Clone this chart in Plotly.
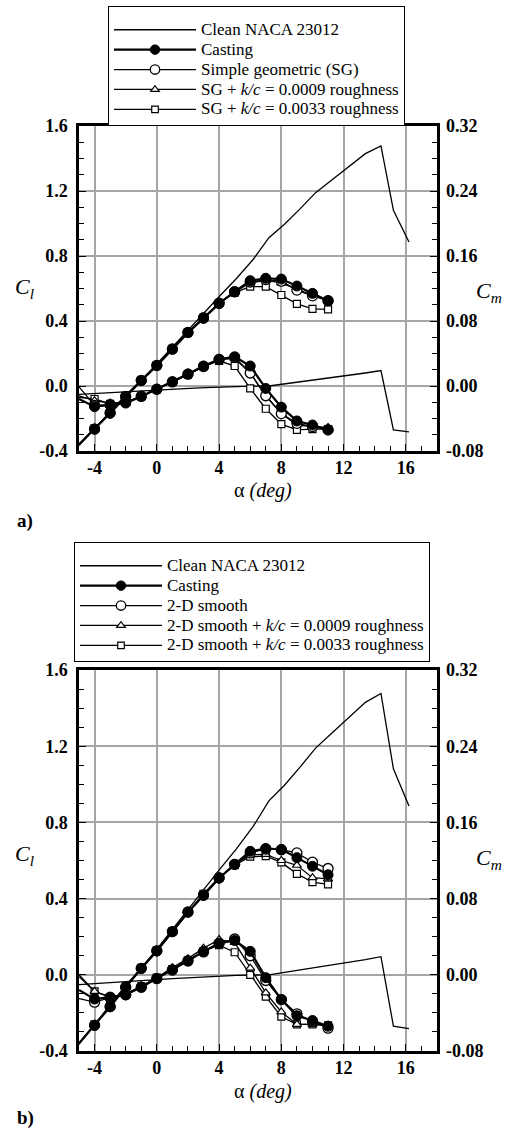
import plotly.graph_objects as go

# ---------------- data ----------------
alpha = [-5, -4, -3, -2, -1, 0, 1, 2, 3, 4, 5, 6, 7, 8, 9, 10, 11]

alpha_clean = [-5.2, -4.1, -3.1, -2.1, -1.0, 0.0, 1.0, 2.1, 3.1, 4.1, 5.1, 6.2, 7.2,
               8.2, 9.2, 10.2, 11.2, 12.2, 13.4, 14.4, 15.2, 16.2]
cl_clean = [-0.385, -0.275, -0.17, -0.065, 0.035, 0.135, 0.24, 0.35, 0.455, 0.56, 0.66,
            0.78, 0.913, 0.995, 1.09, 1.19, 1.265, 1.34, 1.43, 1.477, 1.081, 0.886]
cm_clean = [-0.0105, -0.0095, -0.0085, -0.0075, -0.0062, -0.005, -0.004, -0.003, -0.002,
            -0.0012, -0.0006, -0.0002, 0.0, 0.0025, 0.005, 0.0075, 0.010, 0.013, 0.016,
            0.019, -0.054, -0.0565]

cl_casting = [-0.36, -0.265, -0.168, -0.066, 0.033, 0.125, 0.226, 0.328, 0.416, 0.507,
              0.58, 0.648, 0.663, 0.658, 0.615, 0.57, 0.525]
cm_casting = [-0.016, -0.0255, -0.0234, -0.021, -0.013, -0.004, 0.0053, 0.0148, 0.0246,
              0.033, 0.036, 0.0246, -0.003, -0.026, -0.043, -0.048, -0.054]

# (a) simple geometric
cl_sg = [-0.36, -0.265, -0.165, -0.065, 0.035, 0.127, 0.228, 0.33, 0.42, 0.51, 0.58,
         0.64, 0.655, 0.645, 0.59, 0.555, 0.525]
cm_sg = [-0.001, -0.024, -0.023, -0.02, -0.0125, -0.004, 0.005, 0.0145, 0.024, 0.0325,
         0.035, 0.016, -0.012, -0.034, -0.046, -0.05, -0.054]
cl_sg_k9 = [-0.36, -0.262, -0.162, -0.062, 0.036, 0.128, 0.228, 0.33, 0.42, 0.51, 0.578,
            0.635, 0.65, 0.635, 0.595, 0.56, 0.525]
cm_sg_k9 = [-0.012, -0.018, -0.021, -0.02, -0.0125, -0.004, 0.005, 0.0145, 0.024, 0.0325,
            0.034, 0.016, -0.012, -0.034, -0.048, -0.05, -0.051]
cl_sg_k33 = [-0.36, -0.26, -0.16, -0.06, 0.037, 0.128, 0.228, 0.33, 0.42, 0.51, 0.575,
             0.611, 0.611, 0.56, 0.505, 0.474, 0.472]
cm_sg_k33 = [-0.014, -0.016, -0.022, -0.02, -0.013, -0.004, 0.005, 0.014, 0.024, 0.031,
             0.0246, -0.003, -0.028, -0.047, -0.054, -0.053, -0.053]

# (b) 2-D smooth
cl_2d = [-0.36, -0.265, -0.167, -0.066, 0.034, 0.126, 0.227, 0.33, 0.42, 0.51, 0.58,
         0.64, 0.66, 0.657, 0.64, 0.591, 0.558]
cm_2d = [-0.025, -0.0287, -0.024, -0.021, -0.013, -0.004, 0.005, 0.0145, 0.024, 0.033,
         0.0376, 0.020, -0.006, -0.026, -0.041, -0.049, -0.056]
cl_2d_k9 = [-0.36, -0.262, -0.163, -0.062, 0.036, 0.128, 0.228, 0.33, 0.425, 0.51, 0.578,
            0.63, 0.632, 0.6, 0.575, 0.51, 0.504]
cm_2d_k9 = [0.0, -0.0175, -0.0234, -0.02, -0.012, -0.003, 0.0075, 0.017, 0.028, 0.037,
            0.034, 0.007, -0.019, -0.039, -0.052, -0.052, -0.053]
cl_2d_k33 = [-0.36, -0.26, -0.16, -0.06, 0.037, 0.128, 0.228, 0.33, 0.425, 0.51, 0.575,
             0.62, 0.623, 0.59, 0.53, 0.487, 0.475]
cm_2d_k33 = [-0.002, -0.0175, -0.0234, -0.02, -0.012, -0.003, 0.006, 0.015, 0.025, 0.031,
             0.0237, 0.0, -0.023, -0.044, -0.052, -0.052, -0.053]

names_a = ["Clean NACA 23012", "Casting", "Simple geometric (SG)",
           "SG + <i>k/c</i> = 0.0009 roughness", "SG + <i>k/c</i> = 0.0033 roughness"]
names_b = ["Clean NACA 23012", "Casting", "2-D smooth",
           "2-D smooth + <i>k/c</i> = 0.0009 roughness",
           "2-D smooth + <i>k/c</i> = 0.0033 roughness"]

x_ticks = [-4, 0, 4, 8, 12, 16]
x_ticktext = ["-4", "0", "4", "8", "12", "16"]
cl_ticks = [-0.4, 0.0, 0.4, 0.8, 1.2, 1.6]
cl_ticktext = ["-0.4", "0.0", "0.4", "0.8", "1.2", "1.6"]
cm_ticks = [-0.08, 0.0, 0.08, 0.16, 0.24, 0.32]
cm_ticktext = ["-0.08", "0.00", "0.08", "0.16", "0.24", "0.32"]

# ---------------- layout helpers ----------------
W, H = 508, 1132
def px(x):
    return x / W
def py(y):
    return 1 - y / H

SERIF = "Liberation Serif, Times New Roman, serif"
fig = go.Figure()

styles = {
    "casting": dict(symbol="circle", size=10, color="black", lw=2.2, mlw=1),
    "open": dict(symbol="circle", size=10, color="white", lw=1.3, mlw=1.3),
    "tri": dict(symbol="triangle-up", size=8, color="white", lw=1.3, mlw=1.2),
    "sq": dict(symbol="square", size=7, color="white", lw=1.3, mlw=1.2),
}

def sizes(s):
    return [0 if a < -4.5 else s for a in alpha]

def leg_name(t):
    return '<span style="font-size:17px">%s</span>' % t

def add_panel(xa, ya, ya2, legend, names, cl_series, cm_series):
    fig.add_trace(go.Scatter(x=alpha_clean, y=cl_clean, mode="lines", name=leg_name(names[0]),
                             line=dict(color="black", width=1.3), xaxis=xa, yaxis=ya,
                             legend=legend, legendrank=1, hoverinfo="skip"))
    fig.add_trace(go.Scatter(x=alpha_clean, y=cm_clean, mode="lines", name=leg_name(names[0]),
                             line=dict(color="black", width=1.3), xaxis=xa, yaxis=ya2,
                             legend=legend, showlegend=False, hoverinfo="skip"))
    order = [("sq", 5), ("tri", 4), ("open", 3), ("casting", 2)]
    for key, rank in order:
        st = styles[key]
        idx = rank - 2
        for j, (yy, axis) in enumerate([(cl_series[idx], ya), (cm_series[idx], ya2)]):
            fig.add_trace(go.Scatter(
                x=alpha, y=yy, mode="lines+markers", name=leg_name(names[rank - 1]),
                line=dict(color="black", width=st["lw"]),
                marker=dict(symbol=st["symbol"], size=sizes(st["size"]), color=st["color"],
                            opacity=1, line=dict(color="black", width=st["mlw"])),
                xaxis=xa, yaxis=axis, legend=legend, legendrank=rank,
                showlegend=(j == 0), hoverinfo="skip"))

add_panel("x", "y", "y2", "legend", names_a,
          [cl_casting, cl_sg, cl_sg_k9, cl_sg_k33],
          [cm_casting, cm_sg, cm_sg_k9, cm_sg_k33])
add_panel("x2", "y3", "y4", "legend2", names_b,
          [cl_casting, cl_2d, cl_2d_k9, cl_2d_k33],
          [cm_casting, cm_2d, cm_2d_k9, cm_2d_k33])

tickfont = dict(family=SERIF, size=18, color="black", weight="bold")
xdom = [px(79), px(437)]
dom_a = [py(451), py(126)]
dom_b = [py(1051), py(670)]

def xaxis(anchor):
    return dict(domain=xdom, anchor=anchor, range=[-5, 18], tickmode="array",
                tickvals=x_ticks, ticktext=x_ticktext, ticks="inside", ticklen=7,
                tickwidth=1.2, tickcolor="black", showline=True, linewidth=2.5,
                linecolor="black", mirror=True, showgrid=True, gridcolor="#a6a6a6",
                gridwidth=1.5, zeroline=False, tickfont=tickfont, ticklabelstandoff=-1,
                automargin=False,
                minor=dict(dtick=1, tick0=0, ticks="inside", ticklen=5, tickwidth=1.2,
                           tickcolor="black", showgrid=False))

def yaxis(dom, anchor):
    return dict(domain=dom, anchor=anchor, range=[-0.4, 1.6], tickmode="array",
                tickvals=cl_ticks, ticktext=cl_ticktext, ticks="inside", ticklen=7,
                tickwidth=1.2, tickcolor="black", showline=True, linewidth=2.5,
                linecolor="black", mirror=True, showgrid=True, gridcolor="#a6a6a6",
                gridwidth=1.5, zeroline=False, tickfont=tickfont, ticklabelstandoff=5,
                automargin=False,
                minor=dict(dtick=0.1, tick0=0, ticks="inside", ticklen=5, tickwidth=1.2,
                           tickcolor="black", showgrid=False))

def y2axis(dom, anchor, over):
    return dict(domain=dom, anchor=anchor, overlaying=over, side="right",
                range=[-0.08, 0.32], tickmode="array", tickvals=cm_ticks,
                ticktext=cm_ticktext, ticks="inside", ticklen=7, tickwidth=1.2,
                tickcolor="black", showline=False, showgrid=False, zeroline=False,
                tickfont=tickfont, ticklabelstandoff=8, automargin=False,
                minor=dict(dtick=0.02, tick0=0, ticks="inside", ticklen=5, tickwidth=1.2,
                           tickcolor="black", showgrid=False))

legend_common = dict(xanchor="left", yanchor="top", bgcolor="white", bordercolor="black",
                     borderwidth=1, font=dict(family=SERIF, size=13, color="black"),
                     itemwidth=82, tracegroupgap=0, traceorder="normal",
                     title=dict(text=" ", font=dict(family=SERIF, size=6)))

annots = []
def ann(text, x, y, size):
    annots.append(dict(text=text, x=px(x), y=py(y), xref="paper", yref="paper",
                       xanchor="center", yanchor="middle", showarrow=False,
                       font=dict(family=SERIF, size=size, color="black")))

for bot, cl_y, lab, lab_y in [(451, 288, "a)", 521), (1051, 855, "b)", 1118)]:
    ann("<i>C</i><sub><i>l</i></sub>", 24, cl_y, 22)
    ann("<i>C</i><sub><i>m</i></sub>", 489, cl_y + 4, 22)
    ann("α <i>(deg)</i>", 263, bot + 40, 20)
    ann("<b>%s</b>" % lab, 25, lab_y, 19)

fig.update_layout(
    width=W, height=H, margin=dict(l=0, r=0, t=0, b=0, autoexpand=False),
    paper_bgcolor="white", plot_bgcolor="white",
    xaxis=xaxis("y"), yaxis=yaxis(dom_a, "x"), yaxis2=y2axis(dom_a, "x", "y"),
    xaxis2=xaxis("y3"), yaxis3=yaxis(dom_b, "x2"), yaxis4=y2axis(dom_b, "x2", "y3"),
    legend=dict(x=px(108), y=py(6), **legend_common),
    legend2=dict(x=px(74), y=py(542), **legend_common),
    annotations=annots, showlegend=True,
)

fig.write_html("out.html")
